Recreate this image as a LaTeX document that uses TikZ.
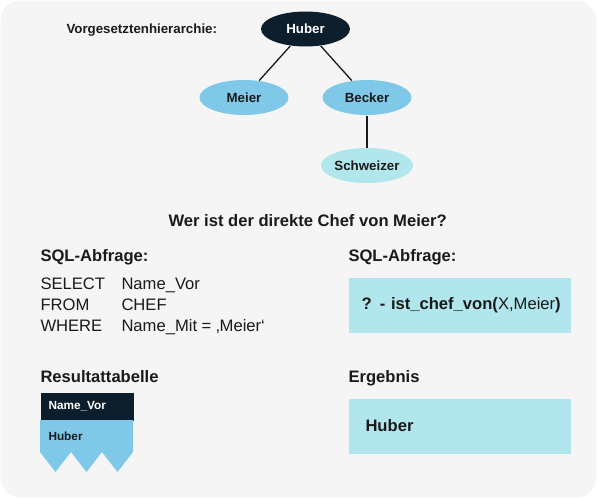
\documentclass[tikz,border=0pt]{standalone}
\usepackage{fontspec}
\setmainfont{Liberation Sans}
\usepackage{tikz}
\usetikzlibrary{shapes.geometric, positioning}
\definecolor{HierDark}{HTML}{0C1D2B}
\definecolor{HierBlue}{HTML}{80C8E8}
\definecolor{HierCyan}{HTML}{B0E6EC}
\definecolor{PanelGray}{HTML}{F5F5F5}
\definecolor{InkBlack}{HTML}{1A1A1A}
\tikzset{
     %set default line width to 1pt
    every picture/.style={line width=1pt},
    person/.style={
        ellipse,
        minimum width=89pt,
        minimum height=35pt,
        inner sep=0pt,
        text=InkBlack,
        font=\fontsize{13.3}{16}\selectfont\bfseries,
    },
    chief/.style={
        person,
        fill=HierDark,
        text=white,
    },
    staff/.style={
        person,
        fill=HierBlue,
    },
    trainee/.style={
        person,
        fill=HierCyan,
    },
    tree-line/.style={
        draw=InkBlack,
        line width=1.3pt,
    },
    heading/.style={
        anchor=base west,
        inner sep=0pt,
        text=InkBlack,
        font=\fontsize{16.6}{20}\selectfont\bfseries,
    },
    code-line/.style={
        anchor=base west,
        inner sep=0pt,
        text=InkBlack,
        font=\fontsize{16.6}{20}\selectfont,
    },
    answer-box/.style={
        fill=HierCyan,
        anchor=north west,
        minimum width=222pt,
        minimum height=55pt,
        inner ysep=0pt,
        align=left,
        text=InkBlack,
        font=\fontsize{16.6}{20}\selectfont,
    },
    table-head/.style={
        fill=HierDark,
        anchor=north west,
        minimum width=93pt,
        minimum height=28pt,
        inner xsep=8pt,
        inner ysep=0pt,
        text width=77pt,
        align=left,
        text=white,
        font=\fontsize{11.8}{14}\selectfont\bfseries,
    }
}

\begin{document}
\begin{tikzpicture}[x=1pt,y=-1pt,scale=1]
\useasboundingbox (0,0) rectangle (597,498);

%Rounded Rect: panel
\fill[PanelGray, rounded corners=20pt] (0.5,0.5) rectangle (596,497.5);

% Hierarchy
\node[heading, font=\fontsize{13.3}{16}\selectfont\bfseries] (hier-title) at (66,33.8) {Vorgesetztenhierarchie:};
\node[chief] (huber) at (305.5,29) {Huber};
\node[staff] (meier) at (244,97.5) {Meier};
\node[staff] (becker) at (367,97.5) {Becker};
\node[trainee] (schweizer) at (367,165.5) {Schweizer};
\draw[tree-line] (huber) -- (meier);
\draw[tree-line] (huber) -- (becker);
\draw[tree-line] (becker) -- (schweizer);

% Text Node
\node[heading] (question) at (168,226) {Wer ist der direkte Chef von Meier?};

% SQL side
\node[heading] (sql-title) at (40,261.7) {SQL-Abfrage:};
\node[code-line] (select-kw) at (40,289.3) {SELECT};
\node[code-line] (from-kw) at (40,310.5) {FROM};
\node[code-line] (where-kw) at (40,331.7) {WHERE};
\node[code-line] (select-arg) at (121,289.3) {Name\_Vor};
\node[code-line] (from-arg) at (121,310.5) {CHEF};
\node[code-line] (where-arg) at (121,331.7) {Name\_Mit = ‚Meier‘};

\node[heading] (result-title) at (40,382.7) {Resultattabelle};
\node[table-head] (name-head) at (40,392) {Name\_Vor};
%Zigzag table body
\fill[HierBlue] (40,420) -- (40,452) -- (55.5,472) -- (71,452) -- (86.5,472) -- (102,452) -- (117.5,472) -- (133,452) -- (133,420) -- cycle;
\node[code-line, font=\fontsize{11.8}{14}\selectfont\bfseries] (name-row) at (48,440.5) {Huber};

% Prolog side
\node[heading] (prolog-title) at (348,261.7) {SQL-Abfrage:};
\node[answer-box, inner xsep=13pt, text width=196pt] (query) at (348,277) {\mbox{\bfseries ? - ist\_chef\_von(\mdseries X,Meier\bfseries )}};
\node[heading] (answer-title) at (348,382.7) {Ergebnis};
\node[answer-box, inner xsep=17pt, text width=188pt, font=\fontsize{16.6}{20}\selectfont\bfseries] (answer) at (348,398) {Huber};

\end{tikzpicture}
\end{document}
